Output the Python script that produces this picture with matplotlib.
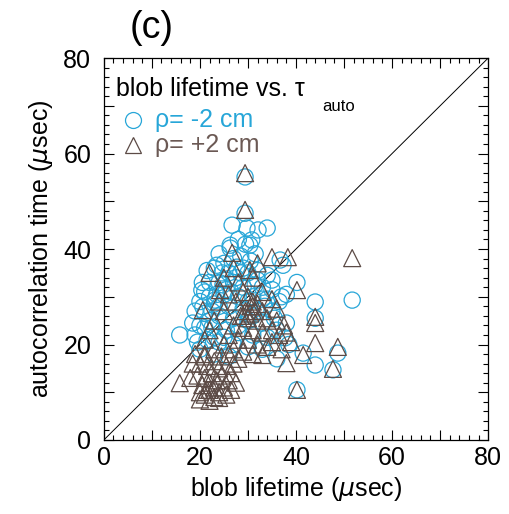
import matplotlib
matplotlib.use("Agg")
import matplotlib.pyplot as plt
from matplotlib.ticker import MultipleLocator, FuncFormatter

plt.rcParams['font.family'] = ['Liberation Sans', 'DejaVu Sans']

# rho = -2 cm (circles): blob lifetime, autocorrelation time
minus_x = [29.4, 29.4, 26.7, 29.8, 34.0, 32.1, 30.8, 26.3, 26.3, 30.4,
           23.5, 24.6, 20.4, 20.6, 23.1, 24.8, 27.7, 36.7, 37.3, 40.2,
           44.0, 51.7, 38.0, 37.7, 41.5, 44.0, 48.7, 47.7, 40.2, 15.8,
           44.0, 25.0, 23.0, 26.0, 30.0, 32.0, 34.0, 22.0, 24.0, 27.0,
           29.0, 33.0, 35.0, 21.0, 25.0, 28.0, 31.0, 34.0, 36.5, 20.0,
           23.0, 26.0, 29.0, 32.0, 35.0, 21.0, 24.0, 27.0, 30.0, 33.0,
           36.0, 20.0, 22.5, 25.5, 28.0, 31.0, 34.0, 19.0, 21.5, 24.0,
           27.0, 30.0, 33.0, 20.0, 23.0, 26.0, 36.0, 38.5, 29.0, 24.0,
           28.0, 30.0, 22.0, 19.0, 32.0, 37.0, 28.5, 31.5, 27.5, 25.5,
           22.0, 18.5, 21.0, 25.0, 28.0, 31.0, 33.5, 35.5, 19.5, 23.5,
           27.0, 25.5, 28.5, 30.5, 22.5, 20.5, 26.5, 31.5, 33.0, 24.0,
           21.5, 29.5, 35.0, 38.0, 23.0]
minus_y = [55.1, 47.5, 45.0, 44.4, 44.4, 44.0, 41.9, 40.8, 40.2, 40.8,
           36.6, 35.0, 31.4, 27.9, 29.3, 32.5, 36.2, 37.7, 36.6, 33.0,
           28.9, 29.3, 24.5, 21.4, 18.2, 15.7, 18.2, 14.7, 10.5, 22.0,
           25.5, 37.0, 36.0, 35.0, 35.0, 35.5, 34.5, 33.0, 33.0, 33.0,
           32.0, 32.0, 31.5, 31.0, 30.5, 30.0, 30.0, 29.5, 29.0, 29.0,
           28.5, 28.0, 27.5, 27.0, 27.0, 26.5, 26.0, 25.5, 25.0, 24.5,
           23.0, 24.0, 23.5, 23.0, 22.5, 22.0, 21.5, 22.0, 21.0, 20.5,
           20.0, 19.5, 19.0, 19.0, 18.0, 17.5, 17.0, 20.0, 36.0, 39.0,
           42.0, 29.0, 30.0, 27.0, 33.5, 30.0, 38.5, 39.0, 34.0, 31.5,
           25.0, 24.5, 23.5, 21.5, 24.0, 26.0, 28.0, 25.5, 20.5, 30.5,
           38.0, 33.5, 35.0, 37.5, 27.0, 33.0, 31.0, 32.5, 29.5, 28.0,
           35.5, 41.0, 33.5, 30.5, 21.5]

# rho = +2 cm (triangles)
plus_x = [29.4, 29.4, 51.7, 35.0, 38.3, 26.7, 30.4, 31.0, 24.2, 20.6,
          40.2, 44.0, 44.0, 44.0, 48.7, 47.7, 41.5, 38.0, 35.0, 33.0,
          40.2, 28.0, 29.0, 30.0, 31.0, 32.0, 30.5, 29.5, 31.5, 33.0,
          28.5, 30.0, 32.0, 34.0, 27.0, 29.0, 31.0, 33.0, 35.0, 36.5,
          26.0, 28.0, 30.0, 32.0, 34.0, 25.0, 27.0, 29.0, 31.0, 37.0,
          39.0, 38.0, 36.0, 25.0, 23.0, 22.0, 21.0, 24.0, 26.0, 27.5,
          22.0, 25.0, 27.0, 32.0, 33.0, 35.0, 36.0, 37.5, 21.0, 23.0,
          19.0, 20.0, 20.0, 21.0, 22.0, 23.0, 24.0, 25.0, 22.0, 23.5,
          21.0, 24.5, 26.0, 20.5, 22.5, 24.0, 25.5, 23.0, 21.5, 26.5,
          27.0, 19.5, 20.0, 22.0, 24.0, 25.5, 26.5, 18.0, 18.5, 15.8,
          21.0, 24.5, 26.0, 27.5, 28.0, 23.0, 21.5, 29.0, 30.5, 31.0]
plus_y = [55.9, 48.2, 38.1, 38.3, 38.3, 39.2, 35.6, 34.0, 31.4, 27.2,
          31.4, 25.8, 24.5, 20.3, 19.5, 14.9, 17.8, 16.1, 20.5, 17.8,
          10.5, 33.0, 31.0, 30.0, 29.0, 28.5, 28.0, 27.0, 27.0, 27.0,
          26.0, 25.5, 25.0, 25.5, 24.0, 23.5, 23.0, 22.5, 23.0, 22.0,
          22.0, 21.0, 21.0, 20.0, 19.5, 20.0, 19.0, 18.5, 18.0, 19.0,
          20.5, 22.5, 25.0, 27.0, 25.0, 23.0, 21.0, 29.0, 30.5, 29.0,
          35.0, 34.0, 36.0, 37.0, 31.0, 29.5, 27.5, 24.0, 18.0, 19.0,
          18.0, 16.0, 10.0, 9.5, 10.5, 9.0, 10.0, 11.0, 12.0, 12.5,
          13.0, 13.5, 12.5, 11.5, 14.0, 15.0, 15.5, 16.5, 15.5, 14.0,
          16.0, 13.5, 8.5, 8.2, 8.8, 9.5, 10.5, 13.0, 16.0, 11.9,
          17.5, 17.5, 18.0, 12.0, 17.0, 11.0, 10.5, 26.0, 26.5, 28.0]

circle_color = '#27a6d8'
tri_color = '#5c4b46'
text_brown = '#6b5954'

fig = plt.figure(figsize=(5.09, 5.14), dpi=100)
ax = fig.add_axes([0.204, 0.144, 0.755, 0.743])

# diagonal reference line
ax.plot([0, 80], [0, 80], color='black', lw=0.7, zorder=1)

ax.scatter(minus_x, minus_y, s=135, marker='o', facecolors='none',
           edgecolors=circle_color, linewidths=0.9, zorder=2)
ax.scatter(plus_x, plus_y, s=150, marker='^', facecolors='none',
           edgecolors=tri_color, linewidths=0.9, zorder=3)

ax.set_xlim(0, 80)
ax.set_ylim(0, 80)

for axis in (ax.xaxis, ax.yaxis):
    axis.set_major_locator(MultipleLocator(10))
    axis.set_minor_locator(MultipleLocator(2))
    axis.set_major_formatter(FuncFormatter(lambda v, p: f"{int(v)}" if int(v) % 20 == 0 else ""))

ax.tick_params(which='both', direction='in', top=True, right=True, width=0.8)
ax.tick_params(which='major', length=7)
ax.tick_params(which='minor', length=3.5)
ax.tick_params(axis='x', which='major', labelsize=18, pad=4)
ax.tick_params(axis='y', which='major', labelsize=18, pad=9)
for sp in ax.spines.values():
    sp.set_linewidth(0.9)

ax.set_xlabel("blob lifetime ($\\mu$sec)", fontsize=18, labelpad=4)
ax.set_ylabel("autocorrelation time ($\\mu$sec)", fontsize=18, labelpad=6)

# legend block
ax.text(0.031, 0.919, "blob lifetime vs. \u03c4", transform=ax.transAxes,
        fontsize=18, va='center', ha='left')
ax.text(0.568, 0.872, "auto", transform=ax.transAxes,
        fontsize=12, va='center', ha='left')
ax.plot([0.076], [0.838], transform=ax.transAxes, marker='o', ms=11.5,
        mfc='none', mec=circle_color, mew=0.9, clip_on=False)
ax.text(0.133, 0.838, "\u03c1= -2 cm", transform=ax.transAxes,
        fontsize=18, va='center', ha='left', color=circle_color)
ax.plot([0.076], [0.772], transform=ax.transAxes, marker='^', ms=12,
        mfc='none', mec=tri_color, mew=0.9, clip_on=False)
ax.text(0.133, 0.772, "\u03c1= +2 cm", transform=ax.transAxes,
        fontsize=18, va='center', ha='left', color=text_brown)

fig.text(0.255, 0.945, "(c)", fontsize=27, ha='left', va='center')

fig.savefig("out.png", dpi=100)
